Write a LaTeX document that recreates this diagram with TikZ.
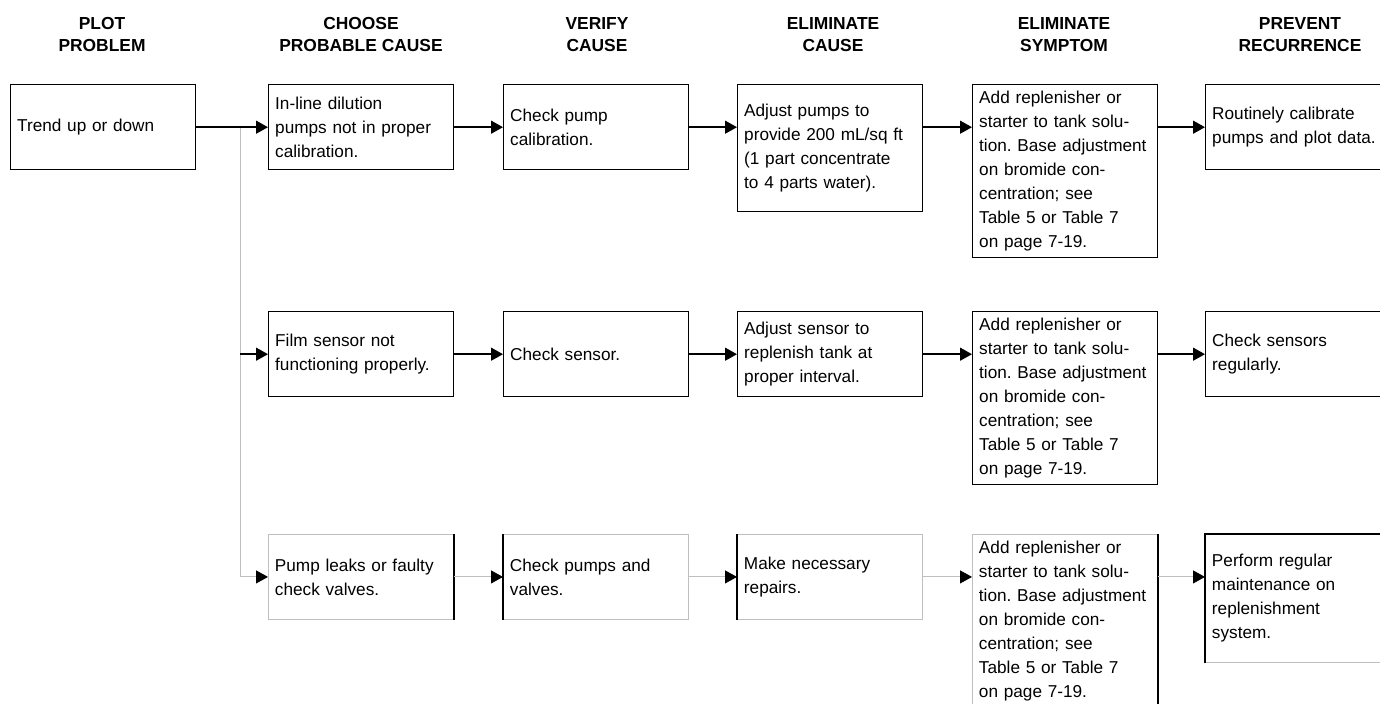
\documentclass[tikz,border=0pt]{standalone}
\usepackage{fontspec}
\setmainfont{Liberation Sans}
\usetikzlibrary{arrows.meta}
\newcommand{\boxfont}{\fontsize{8.6}{12}\selectfont\frenchspacing\hyphenpenalty=10000\relax}

\begin{document}
\begin{tikzpicture}[x=0.5pt, y=-0.5pt,
  stepbox/.style={rectangle, draw, line width=0.7pt, anchor=north west, align=left,
    text width=86pt, inner xsep=3.25pt, inner ysep=0pt, minimum height=42.5pt,
    font=\boxfont},
  faintbox/.style={stepbox, draw=gray!50, line width=0.45pt},
  head/.style={align=center, font=\fontsize{8.7}{11}\selectfont\bfseries},
  arr/.style={line width=0.7pt, -{Triangle[length=6pt,width=6.5pt]}},
  faintarr/.style={draw=gray!50, line width=0.45pt, -{Triangle[length=6pt,width=6.5pt,black]}},
  edge/.style={line width=0.7pt}]

\useasboundingbox (0,0) rectangle (1380,704);
\clip (0,0) rectangle (1380,704);

% column headings
\node[head] (h1) at (102,35) {PLOT\\PROBLEM};
\node[head] (h2) at (361,35) {CHOOSE\\PROBABLE CAUSE};
\node[head] (h3) at (597,35) {VERIFY\\CAUSE};
\node[head] (h4) at (833,35) {ELIMINATE\\CAUSE};
\node[head] (h5) at (1064,35) {ELIMINATE\\SYMPTOM};
\node[head] (h6) at (1300,35) {PREVENT\\RECURRENCE};

% first row
\node[stepbox] (plot) at (10,84) {Trend up or down};
\node[stepbox] (cause1) at (268,84) {In-line dilution\\pumps not in proper\\calibration.};
\node[stepbox] (verify1) at (503,84) {Check pump\\calibration.};
\node[stepbox, minimum height=63.5pt] (elim1) at (737,84) {Adjust pumps to\\provide 200 mL/sq ft\\(1 part concentrate\\to 4 parts water).};
\node[stepbox, minimum height=86.5pt] (symp1) at (972,84) {Add replenisher or\\starter to tank solu-\\tion. Base adjustment\\on bromide con-\\centration; see\\Table 5 or Table 7\\on page 7-19.};
\node[stepbox] (prev1) at (1205,84) {Routinely calibrate\\pumps and plot data.};

% second row
\node[stepbox] (cause2) at (268,311) {Film sensor not\\functioning properly.};
\node[stepbox] (verify2) at (503,311) {Check sensor.};
\node[stepbox] (elim2) at (737,311) {Adjust sensor to\\replenish tank at\\proper interval.};
\node[stepbox, minimum height=86.5pt] (symp2) at (972,311) {Add replenisher or\\starter to tank solu-\\tion. Base adjustment\\on bromide con-\\centration; see\\Table 5 or Table 7\\on page 7-19.};
\node[stepbox] (prev2) at (1205,311) {Check sensors\\regularly.};

% third row
\node[faintbox] (cause3) at (268,534) {Pump leaks or faulty\\check valves.};
\node[faintbox] (verify3) at (503,534) {Check pumps and\\valves.};
\node[faintbox] (elim3) at (737,534) {Make necessary\\repairs.};
\node[faintbox, minimum height=86.5pt] (symp3) at (972,534) {Add replenisher or\\starter to tank solu-\\tion. Base adjustment\\on bromide con-\\centration; see\\Table 5 or Table 7\\on page 7-19.};
\node[faintbox, minimum height=64pt] (prev3) at (1205,534) {Perform regular\\maintenance on\\replenishment\\system.};
\draw[edge] (cause3.north east) -- (cause3.south east);
\draw[edge] (verify3.north west) -- (verify3.south west);
\draw[edge] (elim3.north west) -- (elim3.south west);
\draw[edge] (symp3.north east) -- (symp3.south east);
\draw[edge] (prev3.south west) -- (prev3.north west) -- (prev3.north east);

% connectors
\coordinate (split) at (240,127);
\draw[faintarr] (split) |- (cause3.west);
\draw[arr] (plot) -- (cause1);
\draw[arr] (split |- cause2.west) -- (cause2.west);
\draw[arr] (cause1) -- (verify1);
\draw[arr] (verify1.east) -- (verify1.east -| elim1.west);
\draw[arr] (verify1.east -| elim1.east) -- (verify1.east -| symp1.west);
\draw[arr] (verify1.east -| symp1.east) -- (prev1.west);
\draw[arr] (cause2) -- (verify2);
\draw[arr] (verify2) -- (elim2);
\draw[arr] (elim2) -- (elim2 -| symp2.west);
\draw[arr] (elim2 -| symp2.east) -- (prev2.west);
\draw[faintarr] (cause3) -- (verify3);
\draw[faintarr] (verify3) -- (elim3);
\draw[faintarr] (elim3) -- (elim3 -| symp3.west);
\draw[faintarr] (elim3 -| symp3.east) -- (elim3 -| prev3.west);
\end{tikzpicture}
\end{document}
